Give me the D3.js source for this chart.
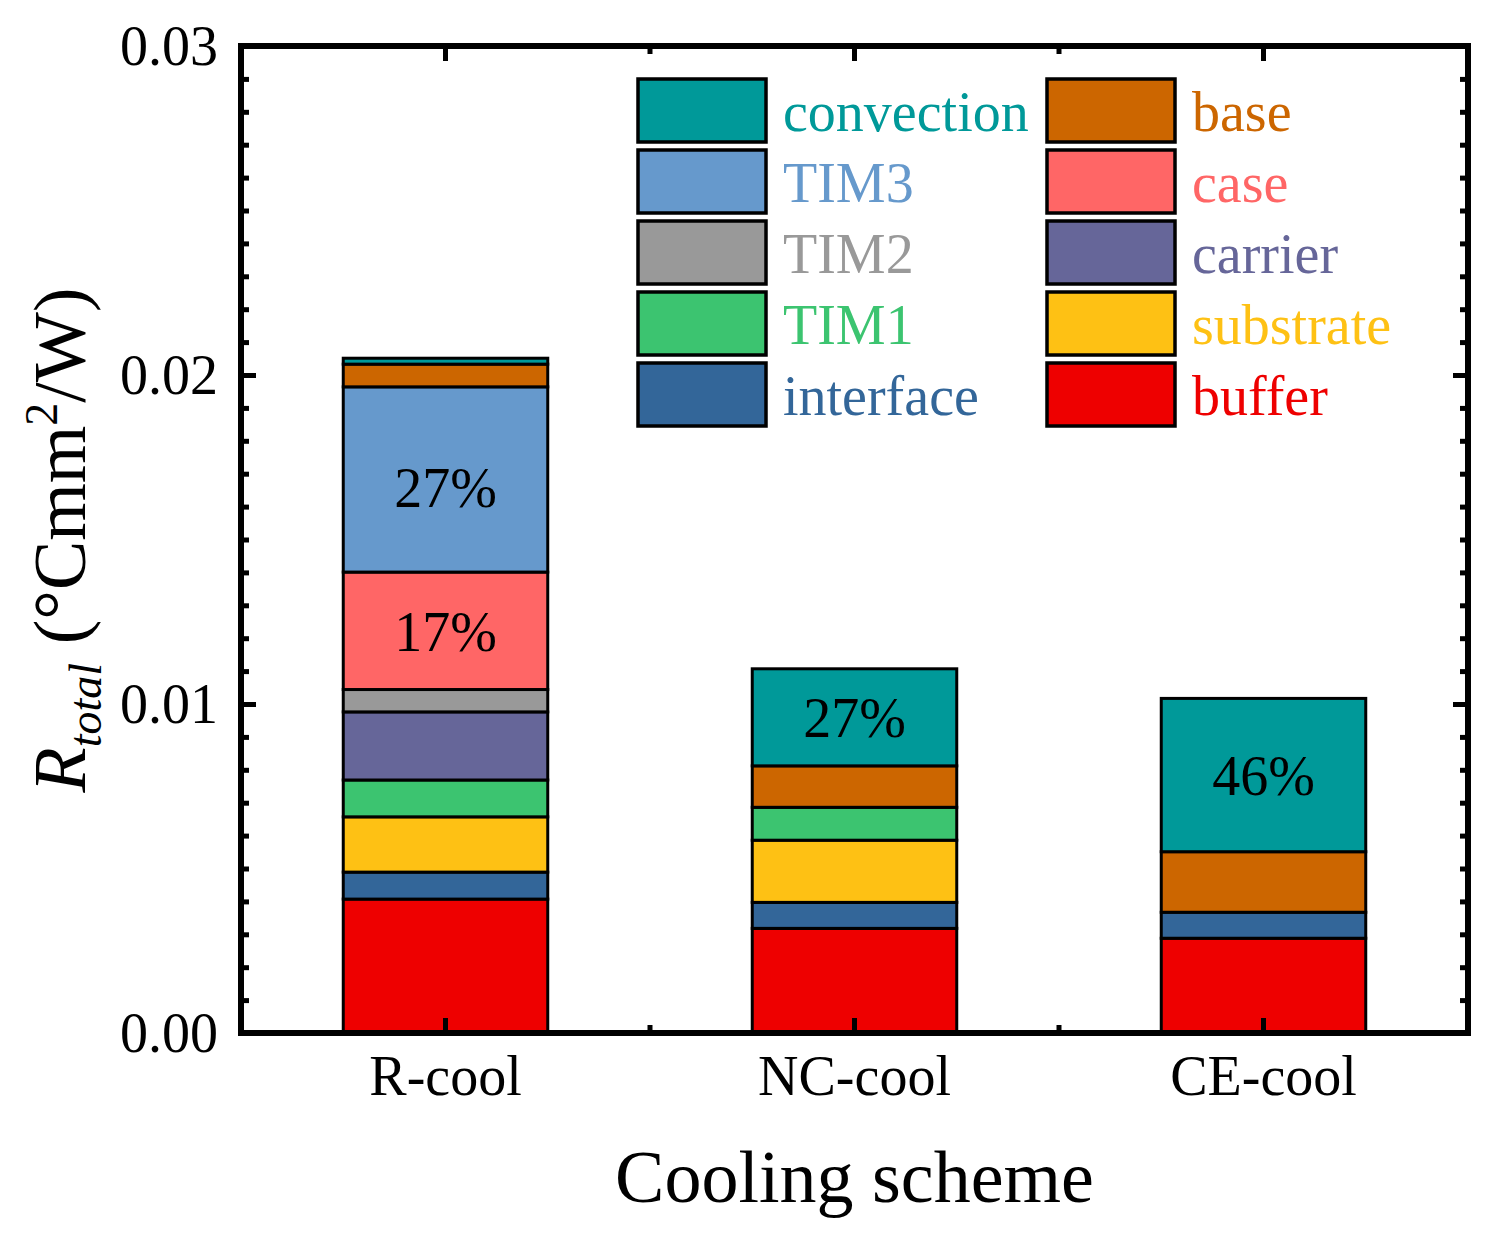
<!DOCTYPE html>
<html>
<head>
<meta charset="utf-8">
<script src="https://cdn.jsdelivr.net/npm/d3@7"></script>
<style>
  body { margin: 0; background: #fff; }
  svg { font-family: "Liberation Serif", "Times New Roman", serif; }
</style>
</head>
<body>
<div class="chart"></div>
<script>
// categories and layers (bottom of the stack first)
const schemes = ["R-cool", "NC-cool", "CE-cool"];
const layers = ["buffer", "interface", "substrate", "TIM1", "carrier", "TIM2", "case", "TIM3", "base", "convection"];

// thermal resistance of each layer, °C mm²/W (one value per scheme)
const buffer     = [0.00407, 0.00318, 0.00288];
const iface      = [0.00082, 0.00079, 0.00079];
const substrate  = [0.00168, 0.00189, 0];
const tim1       = [0.00112, 0.00100, 0];
const carrier    = [0.00207, 0, 0];
const tim2       = [0.00068, 0, 0];
const caseLayer  = [0.00357, 0, 0];
const tim3       = [0.00563, 0, 0];
const base       = [0.00069, 0.00126, 0.00184];
const convection = [0.00018, 0.00295, 0.00466];

const colors = ["#ee0000", "#336699", "#fec114", "#3cc470", "#666699", "#999999", "#ff6666", "#6699cc", "#cc6600", "#009999"];

// legend layout: left column then right column
const legendCols = [
  ["convection", "TIM3", "TIM2", "TIM1", "interface"],
  ["base", "case", "carrier", "substrate", "buffer"]
];

// segments that carry a percentage label
const pctLabels = [
  { scheme: "R-cool", layer: "TIM3" },
  { scheme: "R-cool", layer: "case" },
  { scheme: "NC-cool", layer: "convection" },
  { scheme: "CE-cool", layer: "convection" }
];

const yTicks = [0, 0.01, 0.02, 0.03];

// build rows for d3.stack
const series = [buffer, iface, substrate, tim1, carrier, tim2, caseLayer, tim3, base, convection];
const table = schemes.map((s, i) => {
  const row = { scheme: s };
  layers.forEach((l, j) => { row[l] = series[j][i]; });
  return row;
});

const W = 1506, H = 1240;
const frame = { left: 241, right: 1468, top: 46, bottom: 1033 };

const svg = d3.select("div.chart").append("svg")
  .attr("width", W).attr("height", H);

const x = d3.scaleBand()
  .domain(schemes)
  .range([frame.left, frame.right])
  .paddingInner(0.5)
  .paddingOuter(0.25);

const y = d3.scaleLinear()
  .domain([0, 0.03])
  .range([frame.bottom, frame.top]);

const color = d3.scaleOrdinal().domain(layers).range(colors);

const stacked = d3.stack().keys(layers)(table);

// bars
const segs = [];
stacked.forEach(s => {
  s.forEach(d => {
    if (d[1] - d[0] > 0) segs.push({ layer: s.key, scheme: d.data.scheme, y0: d[0], y1: d[1], total: d3.sum(layers, l => d.data[l]) });
  });
});

svg.append("g").selectAll("rect")
  .data(segs)
  .join("rect")
  .attr("x", d => x(d.scheme))
  .attr("width", x.bandwidth())
  .attr("y", d => y(d.y1))
  .attr("height", d => y(d.y0) - y(d.y1))
  .attr("fill", d => color(d.layer))
  .attr("stroke", "#000")
  .attr("stroke-width", 3);

// percentage labels
svg.append("g").selectAll("text")
  .data(pctLabels.map(p => segs.find(s => s.scheme === p.scheme && s.layer === p.layer)))
  .join("text")
  .attr("x", d => x(d.scheme) + x.bandwidth() / 2)
  .attr("y", d => (y(d.y0) + y(d.y1)) / 2)
  .attr("dy", d => d.layer === "TIM3" ? "0.5em" : "0.36em")
  .attr("text-anchor", "middle")
  .attr("font-size", 56)
  .text(d => Math.round((d.y1 - d.y0) / d.total * 100) + "%");

// axes (ticks point inward)
const minorY = d3.range(0, 31).map(i => i / 1000).filter(v => !yTicks.some(t => Math.abs(t - v) < 1e-9));

const styleAxis = g => {
  g.attr("font-family", null).attr("font-size", null);
  g.select(".domain").remove();
  g.selectAll(".tick line").attr("stroke-width", 5);
  g.selectAll(".tick text").attr("font-size", 56).attr("fill", "#000");
};

svg.append("g")
  .attr("transform", `translate(${frame.left},0)`)
  .call(d3.axisLeft(y).tickValues(yTicks).tickSize(-15).tickPadding(23).tickFormat(d3.format(".2f")))
  .call(styleAxis)
  .call(g => g.selectAll(".tick text").attr("dy", "0.33em"));

svg.append("g")
  .attr("transform", `translate(${frame.left},0)`)
  .call(d3.axisLeft(y).tickValues(minorY).tickSize(-8).tickFormat(""))
  .call(styleAxis);

svg.append("g")
  .attr("transform", `translate(${frame.right},0)`)
  .call(d3.axisRight(y).tickValues(yTicks).tickSize(-15).tickFormat(""))
  .call(styleAxis);

svg.append("g")
  .attr("transform", `translate(${frame.right},0)`)
  .call(d3.axisRight(y).tickValues(minorY).tickSize(-8).tickFormat(""))
  .call(styleAxis);

svg.append("g")
  .attr("transform", `translate(0,${frame.bottom})`)
  .call(d3.axisBottom(x).tickSize(-15).tickPadding(22))
  .call(styleAxis);

svg.append("g")
  .attr("transform", `translate(0,${frame.top})`)
  .call(d3.axisTop(x).tickSize(-15).tickFormat(""))
  .call(styleAxis);

// minor x ticks halfway between categories
const minorX = schemes.slice(0, -1).map(s => x(s) + x.bandwidth() / 2 + x.step() / 2);
[[frame.bottom, -8], [frame.top, 8]].forEach(([yy, len]) => {
  svg.append("g").selectAll("line")
    .data(minorX)
    .join("line")
    .attr("x1", d => d).attr("x2", d => d)
    .attr("y1", yy).attr("y2", yy + len)
    .attr("stroke", "#000")
    .attr("stroke-width", 5);
});

// frame
svg.append("rect")
  .attr("x", frame.left).attr("y", frame.top)
  .attr("width", frame.right - frame.left)
  .attr("height", frame.bottom - frame.top)
  .attr("fill", "none")
  .attr("stroke", "#000")
  .attr("stroke-width", 6);

// legend
const legend = svg.append("g");
const colX = [638, 1047];
legendCols.forEach((col, ci) => {
  const g = legend.append("g").attr("transform", `translate(${colX[ci]},79)`);
  const item = g.selectAll("g")
    .data(col)
    .join("g")
    .attr("transform", (d, i) => `translate(0,${i * 71})`);
  item.append("rect")
    .attr("width", 128).attr("height", 63)
    .attr("fill", d => color(d))
    .attr("stroke", "#000")
    .attr("stroke-width", 3.5);
  item.append("text")
    .attr("x", 145)
    .attr("y", 31.5)
    .attr("dy", "0.36em")
    .attr("font-size", 56)
    .attr("fill", d => color(d))
    .text(d => d);
});

// axis titles
svg.append("text")
  .attr("x", (frame.left + frame.right) / 2)
  .attr("y", 1202)
  .attr("text-anchor", "middle")
  .attr("font-size", 74)
  .text("Cooling scheme");

const yTitle = svg.append("text")
  .attr("transform", "translate(85,540) rotate(-90)")
  .attr("text-anchor", "middle")
  .attr("font-size", 74);
yTitle.append("tspan").attr("font-style", "italic").text("R");
yTitle.append("tspan").attr("font-style", "italic").attr("font-size", 46).attr("dy", 16).text("total");
yTitle.append("tspan").attr("dy", -16).text(" (°Cmm");
yTitle.append("tspan").attr("font-size", 46).attr("dy", -28).text("2");
yTitle.append("tspan").attr("dy", 28).text("/W)");
</script>
</body>
</html>
